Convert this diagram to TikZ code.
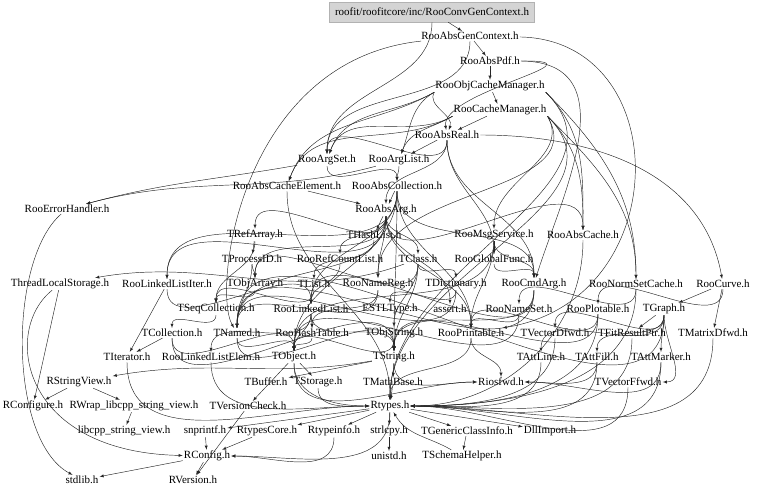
\documentclass[tikz,border=0pt]{standalone}
\usepackage{fontspec}
\setmainfont{Liberation Serif}
\tikzset{
  hdr/.style={inner sep=1bp, font=\fontsize{11bp}{13bp}\selectfont},
  top/.style={hdr, fill=black!17, draw=black!30, minimum width=205bp, minimum height=20bp},
  dep/.style={-latex, draw=black!85, line width=0.45bp}
}
\begin{document}
\begin{tikzpicture}[x=1bp,y=-1bp]
    \useasboundingbox (0,0) rectangle (768,495);
    % headers, one row per rank
    \node[top] (root) at (432,12) {roofit/roofitcore/inc/RooConvGenContext.h};
    \node[hdr] (absgen) at (470,36) {RooAbsGenContext.h};
    \node[hdr] (abspdf) at (490,61) {RooAbsPdf.h};
    \node[hdr] (objcache) at (490,86) {RooObjCacheManager.h};
    \node[hdr] (cachemgr) at (500,110) {RooCacheManager.h};
    \node[hdr] (absreal) at (447,135) {RooAbsReal.h};
    \node[hdr] (argset) at (327,160) {RooArgSet.h};
    \node[hdr] (arglist) at (399,160) {RooArgList.h};
    \node[hdr] (abscacheel) at (287,186) {RooAbsCacheElement.h};
    \node[hdr] (abscoll) at (397,186) {RooAbsCollection.h};
    \node[hdr] (errhandler) at (67,209) {RooErrorHandler.h};
    \node[hdr] (absarg) at (386,210) {RooAbsArg.h};
    \node[hdr] (trefarray) at (255,235) {TRefArray.h};
    \node[hdr] (thashlist) at (374,235) {THashList.h};
    \node[hdr] (msgservice) at (494,235) {RooMsgService.h};
    \node[hdr] (abscache) at (583,235) {RooAbsCache.h};
    \node[hdr] (tprocessid) at (252,259) {TProcessID.h};
    \node[hdr] (refcountlist) at (340,259) {RooRefCountList.h};
    \node[hdr] (tclass) at (418,259) {TClass.h};
    \node[hdr] (globalfunc) at (494,259) {RooGlobalFunc.h};
    \node[hdr] (threadlocal) at (60,284) {ThreadLocalStorage.h};
    \node[hdr] (linkedlistiter) at (167,284) {RooLinkedListIter.h};
    \node[hdr] (tobjarray) at (255,284) {TObjArray.h};
    \node[hdr] (tlist) at (314,284) {TList.h};
    \node[hdr] (namereg) at (378,284) {RooNameReg.h};
    \node[hdr] (tdictionary) at (456,284) {TDictionary.h};
    \node[hdr] (cmdarg) at (534,284) {RooCmdArg.h};
    \node[hdr] (normsetcache) at (636,284) {RooNormSetCache.h};
    \node[hdr] (curve) at (723,284) {RooCurve.h};
    \node[hdr] (tseqcoll) at (216,309) {TSeqCollection.h};
    \node[hdr] (linkedlist) at (311,309) {RooLinkedList.h};
    \node[hdr] (estltype) at (390,309) {ESTLType.h};
    \node[hdr] (assert) at (450,309) {assert.h};
    \node[hdr] (nameset) at (519,309) {RooNameSet.h};
    \node[hdr] (plotable) at (598,309) {RooPlotable.h};
    \node[hdr] (tgraph) at (664,309) {TGraph.h};
    \node[hdr] (tcollection) at (172,333) {TCollection.h};
    \node[hdr] (tnamed) at (237,333) {TNamed.h};
    \node[hdr] (hashtable) at (312,333) {RooHashTable.h};
    \node[hdr] (tobjstring) at (394,333) {TObjString.h};
    \node[hdr] (rooprintable) at (471,333) {RooPrintable.h};
    \node[hdr] (tvectordfwd) at (555,333) {TVectorDfwd.h};
    \node[hdr] (tfitresultptr) at (632,333) {TFitResultPtr.h};
    \node[hdr] (tmatrixdfwd) at (713,333) {TMatrixDfwd.h};
    \node[hdr] (titerator) at (127,357) {TIterator.h};
    \node[hdr] (linkedlistelem) at (211,357) {RooLinkedListElem.h};
    \node[hdr] (tobject) at (294,357) {TObject.h};
    \node[hdr] (tstring) at (394,357) {TString.h};
    \node[hdr] (tattline) at (541,357) {TAttLine.h};
    \node[hdr] (tattfill) at (597,357) {TAttFill.h};
    \node[hdr] (tattmarker) at (661,357) {TAttMarker.h};
    \node[hdr] (rstringview) at (79,382) {RStringView.h};
    \node[hdr] (tbuffer) at (266,382) {TBuffer.h};
    \node[hdr] (tstorage) at (318,382) {TStorage.h};
    \node[hdr] (tmathbase) at (393,382) {TMathBase.h};
    \node[hdr] (riosfwd) at (501,382) {Riosfwd.h};
    \node[hdr] (tvectorffwd) at (628,382) {TVectorFfwd.h};
    \node[hdr] (rconfigure) at (33,406) {RConfigure.h};
    \node[hdr] (rwrap) at (134,406) {RWrap\_libcpp\_string\_view.h};
    \node[hdr] (tversioncheck) at (248,406) {TVersionCheck.h};
    \node[hdr] (rtypes) at (390,406) {Rtypes.h};
    \node[hdr] (libcpp) at (124,431) {libcpp\_string\_view.h};
    \node[hdr] (snprintf) at (205,431) {snprintf.h};
    \node[hdr] (rtypescore) at (267,431) {RtypesCore.h};
    \node[hdr] (rtypeinfo) at (334,431) {Rtypeinfo.h};
    \node[hdr] (strlcpy) at (389,431) {strlcpy.h};
    \node[hdr] (tgenericclassinfo) at (467,431) {TGenericClassInfo.h};
    \node[hdr] (dllimport) at (550,431) {DllImport.h};
    \node[hdr] (rconfig) at (207,456) {RConfig.h};
    \node[hdr] (unistd) at (389,456) {unistd.h};
    \node[hdr] (tschemahelper) at (462,456) {TSchemaHelper.h};
    \node[hdr] (stdlib) at (82,480) {stdlib.h};
    \node[hdr] (rversion) at (193,480) {RVersion.h};
    % short, nearly straight includes
    \foreach \s/\t in {root/absgen, absgen/abspdf, abspdf/objcache, objcache/cachemgr, cachemgr/absreal,
        absreal/arglist, abscoll/absarg, trefarray/tprocessid, msgservice/globalfunc, absarg/thashlist,
        tstring/tmathbase, tmathbase/rtypes, rtypes/strlcpy, strlcpy/unistd, tgenericclassinfo/tschemahelper,
        rstringview/rconfigure, rstringview/rwrap, rwrap/libcpp, snprintf/rconfig, rconfig/rversion,
        tobject/tstorage, tstring/tbuffer, curve/tgraph, curve/tmatrixdfwd, tgraph/tfitresultptr,
        linkedlistiter/titerator, tcollection/titerator, abscacheel/absarg, rconfig/stdlib,
        rtypes/snprintf, rtypes/rtypescore, rtypes/rtypeinfo, rtypes/tgenericclassinfo, rtypes/dllimport,
        rtypescore/rconfig, threadlocal/rconfigure, tobject/tversioncheck, tversioncheck/rversion}
        \draw[dep] (\s) -- (\t);
    % includes drawn top to bottom
    \foreach \s/\t in {root/argset, absgen/argset,
        absreal/absarg, absreal/cmdarg, absreal/argset, absreal/globalfunc,
        argset/abscoll, arglist/abscoll, abscacheel/rtypes,
        abscoll/tobject, abscoll/tstring, abscoll/rooprintable, abscoll/linkedlist,
        abscoll/cmdarg, abscoll/linkedlistiter,
        absarg/trefarray, absarg/tclass, absarg/refcountlist, absarg/abscache,
        absarg/linkedlistiter, absarg/tobjarray, absarg/namereg, absarg/tnamed, absarg/rooprintable, absarg/assert,
        trefarray/tseqcoll, thashlist/tlist,
        msgservice/cmdarg, msgservice/tobject, msgservice/rooprintable,
        tprocessid/tobjarray, tprocessid/tnamed, refcountlist/linkedlist,
        tclass/tdictionary, tclass/tobjarray, tclass/tobjstring, tclass/tstring,
        globalfunc/cmdarg, linkedlistiter/linkedlist,
        tobjarray/tseqcoll, tlist/tseqcoll, namereg/tnamed, namereg/hashtable,
        tdictionary/tnamed, tdictionary/estltype, cmdarg/tnamed, cmdarg/tstring, cmdarg/linkedlist,
        normsetcache/nameset, curve/plotable,
        tseqcoll/tcollection, linkedlist/tobject, linkedlist/linkedlistelem, linkedlist/tstring, linkedlist/hashtable,
        nameset/tobject, nameset/rooprintable, plotable/rooprintable, plotable/tstring,
        tgraph/tnamed, tgraph/tattline, tgraph/tattfill, tgraph/tattmarker, tgraph/tvectordfwd,
        tcollection/tobject, tcollection/tstring, tnamed/tobject, tnamed/tstring,
        hashtable/tobject, tobjstring/tobject, tobjstring/tstring, rooprintable/riosfwd, rooprintable/rtypes}
        \draw[dep] (\s) to[out=-90,in=90] (\t);
    % the two cache managers fan out to both sides
    \foreach \s in {objcache, cachemgr}{
        \foreach \t in {argset, arglist, abscacheel}
            \draw[dep] (\s.south west) to[out=-150,in=70] (\t);
        \foreach \t in {abscache, normsetcache, rtypes}
            \draw[dep] (\s.south east) to[out=-45,in=90] (\t);
    }
    \draw[dep] (objcache.south west) to[out=-120,in=70] (absreal);
    \foreach \t in {msgservice, namereg}
        \draw[dep] (cachemgr.south east) to[out=-60,in=90] (\t);
    \draw[dep] (abspdf.east) .. controls (610,60) and (440,92) .. (absreal);
    \draw[dep] (abspdf.east) .. controls (630,62) and (560,200) .. (cmdarg);
    \draw[dep] (absreal.east) to[out=0,in=100] (curve);
    % includes arriving from the right
    \foreach \s/\t in {tvectordfwd/rtypes, tfitresultptr/rtypes, tmatrixdfwd/rtypes, tattline/rtypes,
        tattfill/rtypes, tattmarker/rtypes, tvectorffwd/rtypes, plotable/rtypes, normsetcache/rtypes,
        abscache/rtypes, tattfill/riosfwd, tattmarker/riosfwd, tgraph/tvectorffwd,
        rtypeinfo/rconfig, rtypes/rconfig}
        \draw[dep] (\s) to[out=-90,in=0] (\t);
    % includes arriving from the left
    \foreach \s/\t in {tobject/riosfwd, tstring/riosfwd, tobject/rtypes, tstorage/rtypes,
        titerator/rtypes, linkedlistelem/rtypes}
        \draw[dep] (\s) to[out=-90,in=180] (\t);
    \draw[dep] (tclass) to[out=200,in=10] (threadlocal);
    \draw[dep] (tstring) to[out=190,in=10] (rstringview);
    \draw[dep] (argset) to[out=190,in=15] (errhandler);
    \draw[dep] (arglist) to[out=195,in=15] (errhandler);
    \draw[dep] (absgen) .. controls (240,60) and (212,290) .. (tnamed);
    \draw[dep] (absgen) .. controls (676,40) and (676,300) .. (rooprintable);
    \draw[dep] (tschemahelper) to[out=150,in=-60] (rtypes);
    \draw[dep] (errhandler) .. controls (8,260) and (8,440) .. (stdlib);
    \draw[dep] (threadlocal) .. controls (2,330) and (20,452) .. (rconfig);
\end{tikzpicture}
\end{document}
